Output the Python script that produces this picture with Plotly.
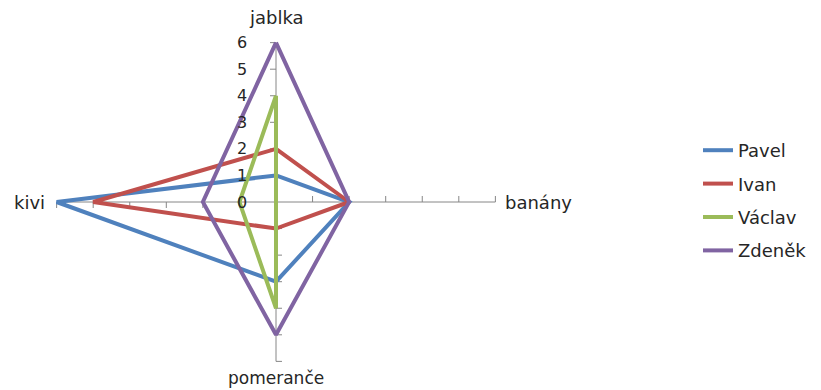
import numpy as np
import plotly.graph_objects as go

# data
categories = ["jablka", "banány", "pomeranče", "kivi"]
people = ["Pavel", "Ivan", "Václav", "Zdeněk"]
pavel = [1, 2, 3, 6]
ivan = [2, 2, 1, 5]
vaclav = [4, 0, 4, 1]
zdenek = [6, 2, 5, 2]
tick_values = [0, 1, 2, 3, 4, 5, 6]

series = [pavel, ivan, vaclav, zdenek]
colors = ["#4F81BD", "#C0504D", "#9BBB59", "#8064A2"]

FONT = "DejaVu Sans"
TXT = "#262626"
AX = "#868686"

rmax = max(tick_values)
angles = np.deg2rad([0, 90, 180, 270])  # clockwise from top
sx, cy = np.sin(angles), np.cos(angles)

# px per unit (chart is stretched horizontally)
ux, uy = 36.6, 26.5
pad = 6.4
cx0, cy0 = 268, 194  # centre, page body offset of 8px taken off
ml, mt = cx0 - pad * ux, cy0 - pad * uy
pw, ph = 2 * pad * ux, 2 * pad * uy

fig = go.Figure()

# spokes and ticks
shapes = []
for s, c in zip(sx, cy):
    shapes.append(dict(type="line", x0=0, y0=0, x1=rmax * s, y1=rmax * c,
                       line=dict(color=AX, width=1), layer="below"))
    # perpendicular direction (rotate +90)
    px_, py_ = -c, s
    for k in tick_values[1:]:
        shapes.append(dict(type="line", x0=k * s, y0=k * c,
                           x1=k * s + px_ * 6 / ux, y1=k * c + py_ * 6 / uy,
                           line=dict(color=AX, width=1), layer="below"))

for name, vals, col in zip(people, series, colors):
    v = np.array(vals + vals[:1], dtype=float)
    s = np.append(sx, sx[0])
    c = np.append(cy, cy[0])
    fig.add_trace(go.Scatter(
        x=v * s, y=v * c, mode="lines", name=name,
        line=dict(color=col, width=4), legendgroup=name,
        hoverinfo="skip"
    ))

annotations = []
for t in tick_values:
    annotations.append(dict(x=0, y=t, text=str(t), showarrow=False,
                            xanchor="right", xshift=-27,
                            font=dict(family=FONT, size=16, color=TXT)))

lab_font = dict(family=FONT, size=18, color=TXT)
annotations += [
    dict(x=0, y=rmax, text=categories[0], showarrow=False, yshift=25, font=lab_font),
    dict(x=rmax, y=0, text=categories[1], showarrow=False, xanchor="left", xshift=8, font=lab_font),
    dict(x=0, y=-rmax, text=categories[2], showarrow=False, yshift=-17,
         font=dict(family=FONT, size=17, color=TXT)),
    dict(x=-rmax, y=0, text=categories[3], showarrow=False, xanchor="right", xshift=-10, font=lab_font),
]

fig.update_layout(
    width=821, height=390,
    margin=dict(l=ml, t=mt, r=821 - ml - pw, b=390 - mt - ph),
    paper_bgcolor="white", plot_bgcolor="white",
    xaxis=dict(range=[-pad, pad], visible=False, fixedrange=True),
    yaxis=dict(range=[-pad, pad], visible=False, fixedrange=True),
    shapes=shapes, annotations=annotations,
    legend=dict(xref="container", yref="container", x=690 / 821, y=1 - 124 / 390,
                xanchor="left", yanchor="top", tracegroupgap=7,
                font=dict(family=FONT, size=18, color=TXT)),
    showlegend=True,
)

fig.write_html("out.html")
